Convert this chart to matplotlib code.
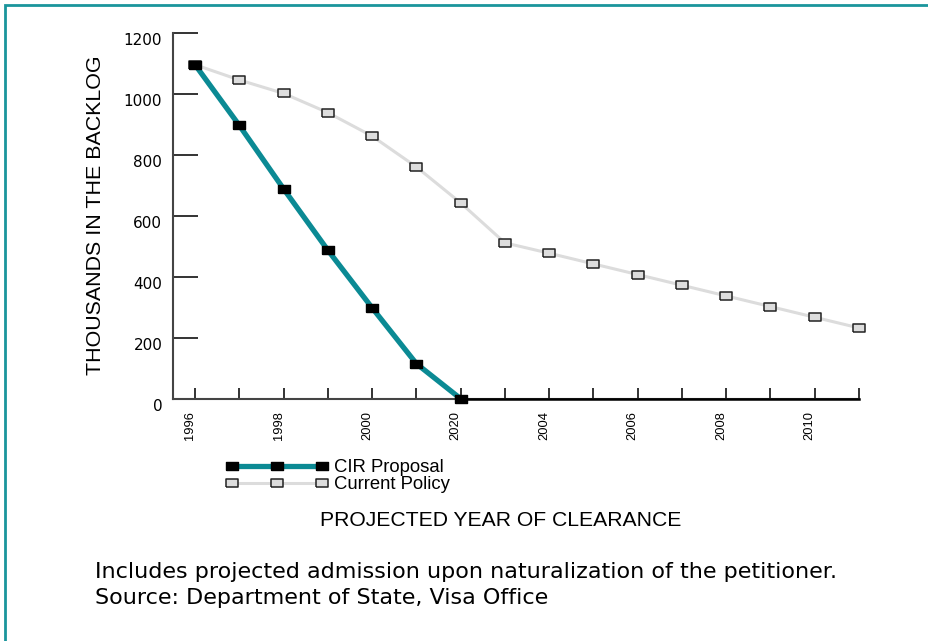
import numpy as np
import matplotlib
matplotlib.use('Agg')
import matplotlib.pyplot as plt
from matplotlib import font_manager
from matplotlib.patches import Rectangle
import matplotlib.transforms as mtransforms

# values (thousands in the backlog)
year_labels = ['1996', '', '1998', '', '2000', '', '2020', '', '2004', '', '2006', '', '2008', '', '2010', '']
current_policy = [1095, 1045, 1001, 938, 861, 760, 642, 511, 477, 442, 407, 372, 337, 302, 267, 232]
cir_proposal = [1095, 896, 688, 487, 298, 115, 0]
y_ticks = [0, 200, 400, 600, 800, 1000, 1200]

teal = '#0b8a94'
names = {f.name for f in font_manager.fontManager.ttflist}
narrow = 'Liberation Sans Narrow' if 'Liberation Sans Narrow' in names else 'Liberation Sans'
xt_size = 11 if narrow == 'Liberation Sans Narrow' else 9.3

W, H = 929, 641
fig = plt.figure(figsize=(W / 100, H / 100), dpi=100)
ax = fig.add_axes([172.7 / W, (H - 398.7) / H, (859 - 172.7) / W, 366 / H])

x = np.arange(len(current_policy))
rect = [(-1, -0.65), (1, -0.65), (1, 0.65), (-1, 0.65), (-1, -0.65)]

ax.plot(x, current_policy, color='#dcdcdc', lw=2.2, marker=rect, ms=8,
        mfc='#dddddd', mec='#222222', mew=1.1, clip_on=False, zorder=3,
        label='Current Policy')
n = len(cir_proposal)
ax.plot(x[n - 1:], np.zeros(len(x) - n + 1), color='black', lw=1.8, zorder=3.5, clip_on=False)
ax.plot(x[:n], cir_proposal, color=teal, lw=3.8, marker=rect, ms=8,
        mfc='black', mec='black', clip_on=False, zorder=4, label='CIR Proposal')

ax.set_xlim(-0.505, 15)
ax.set_ylim(0, 1200)
for s in ['top', 'right']:
    ax.spines[s].set_visible(False)
for s in ['left', 'bottom']:
    ax.spines[s].set_color('#444444')
    ax.spines[s].set_linewidth(1.5)

ax.set_yticks(y_ticks)
ax.set_yticklabels([str(v) for v in y_ticks], fontsize=11, family='DejaVu Sans')
ax.tick_params(axis='y', direction='in', length=18, width=1.4, color='#333333', pad=7.5)
plt.setp(ax.get_yticklabels(), va='top')

ax.set_xticks(x)
ax.set_xticklabels(year_labels, rotation=90, fontsize=xt_size, family=narrow, va='top', ha='center')
ax.tick_params(axis='x', direction='in', length=8, width=1.4, color='#333333', pad=9)
shift = mtransforms.ScaledTranslation(-5 / 100, 0, fig.dpi_scale_trans)
for lbl in ax.get_xticklabels():
    lbl.set_transform(lbl.get_transform() + shift)

h, l = ax.get_legend_handles_labels()
fig.legend(h[::-1], l[::-1], loc='upper left', bbox_to_anchor=(226 / W, 1 - 459 / H),
           frameon=False, borderpad=0, borderaxespad=0, handlelength=5.5,
           handletextpad=0.33, labelspacing=0, numpoints=3,
           prop={'family': 'Liberation Sans', 'size': 13.3})

fig.text(96 / W, 1 - 215 / H, 'THOUSANDS IN THE BACKLOG', rotation=90, ha='center', va='center',
         family='Liberation Sans', fontsize=15.4)
fig.text(501 / W, 1 - 520.5 / H, 'PROJECTED YEAR OF CLEARANCE', ha='center', va='center',
         family='Liberation Sans', fontsize=15.2)
fig.text(95 / W, 1 - 572 / H, 'Includes projected admission upon naturalization of the petitioner.',
         ha='left', va='center', family='DejaVu Sans', fontsize=16)
fig.text(95 / W, 1 - 598 / H, 'Source: Department of State, Visa Office',
         ha='left', va='center', family='DejaVu Sans', fontsize=16)

# teal frame (only top and left edges fall inside the picture)
fig.add_artist(Rectangle((5 / W, -0.1), 1.2, 1.1 - 5 / H, transform=fig.transFigure,
                         fill=False, ec='#1a959c', lw=2, clip_on=False))

fig.savefig('out.png', dpi=100)
